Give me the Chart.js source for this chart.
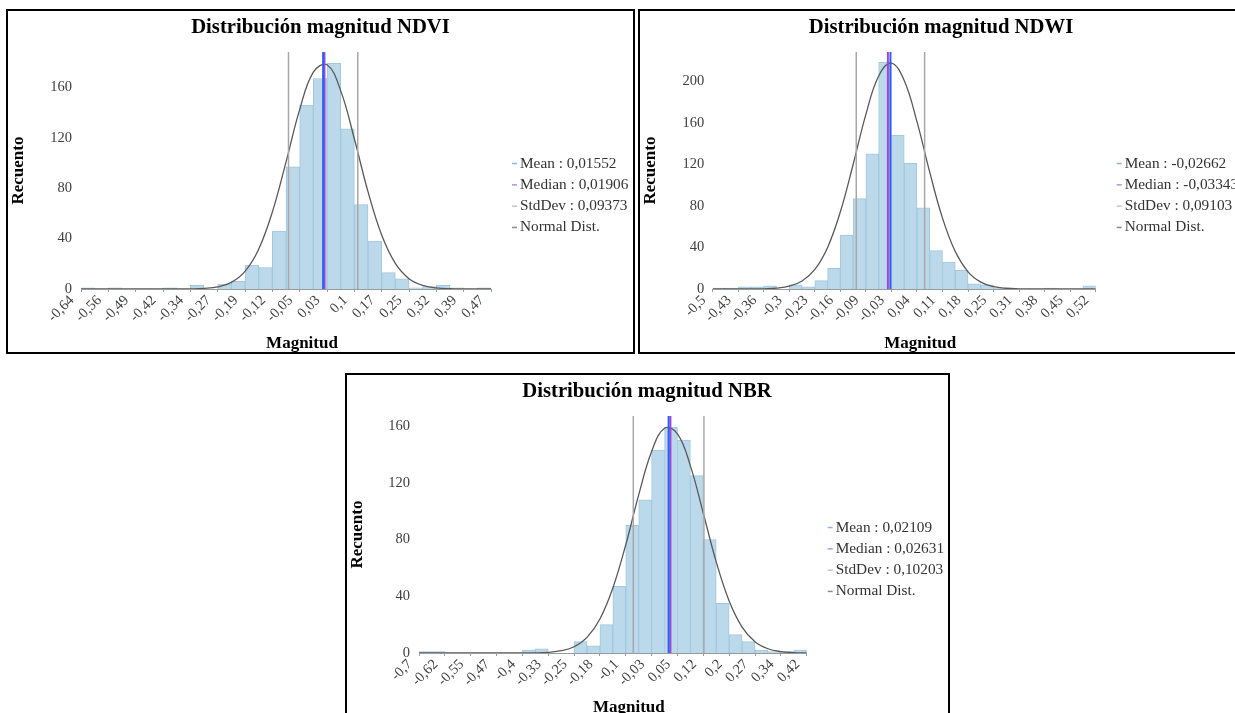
<!DOCTYPE html>
<html>
<head>
<meta charset="utf-8">
<script src="https://cdn.jsdelivr.net/npm/chart.js@4.4.1/dist/chart.umd.min.js"></script>
<style>
  body { margin: 0; width: 1235px; height: 713px; overflow: hidden; background: #fff; position: relative; }
  .panel { position: absolute; border: 2px solid #000; box-sizing: border-box; }
  canvas { position: absolute; }
</style>
</head>
<body>
<div class="panel" style="left:6px;top:9px;width:629px;height:345px"></div>
<div class="panel" style="left:638px;top:9px;width:606px;height:345px"></div>
<div class="panel" style="left:345px;top:373px;width:605px;height:360px"></div>
<canvas id="cNdvi" width="623" height="340" style="left:9px;top:12px"></canvas>
<canvas id="cNdwi" width="600" height="340" style="left:641px;top:12px"></canvas>
<canvas id="cNbr" width="598" height="340" style="left:348px;top:376px"></canvas>
<script>
/*------------------------------- DATA -------------------------------*/
// NDVI
const ndviRange = [-0.64, 0.47];
const ndviTicks = ['-0,64', '-0,56', '-0,49', '-0,42', '-0,34', '-0,27', '-0,19', '-0,12', '-0,05', '0,03', '0,1', '0,17', '0,25', '0,32', '0,39', '0,47'];
const ndviCounts = [1, 0, 1, 0, 0, 0, 1, 0, 3, 0, 4, 6, 19, 17, 46, 97, 146, 167, 179, 127, 67, 38, 13, 8, 1, 2, 3, 1, 0, 1];
const ndviNormal = [0, 0, 0, 0, 0, 0, 0, 0, 0.1, 0.5, 1.7, 5.3, 14, 31.6, 61, 100.7, 142.3, 172, 177.9, 157.4, 119.2, 77.2, 42.8, 20.3, 8.2, 2.9, 0.9, 0.2, 0, 0, 0];
const ndviStats = [0.01552, 0.01906, 0.09373]; // mean, median, stddev

// NDWI
const ndwiRange = [-0.5, 0.52];
const ndwiTicks = ['-0,5', '-0,43', '-0,36', '-0,3', '-0,23', '-0,16', '-0,09', '-0,03', '0,04', '0,11', '0,18', '0,25', '0,31', '0,38', '0,45', '0,52'];
const ndwiCounts = [1, 1, 2, 2, 3, 0, 4, 2, 8, 20, 52, 87, 130, 218, 148, 121, 78, 37, 26, 18, 5, 4, 1, 0, 0, 0, 1, 0, 0, 3];
const ndwiNormal = [0, 0, 0, 0, 0.2, 0.8, 2.7, 7.7, 18.8, 40, 74.3, 119.8, 168, 205, 217.4, 200.6, 161, 112.4, 68.2, 36, 16.5, 6.6, 2.3, 0.7, 0.2, 0, 0, 0, 0, 0, 0];
const ndwiStats = [-0.02662, -0.03343, 0.09103];

// NBR
const nbrRange = [-0.7, 0.42];
const nbrTicks = ['-0,7', '-0,62', '-0,55', '-0,47', '-0,4', '-0,33', '-0,25', '-0,18', '-0,1', '-0,03', '0,05', '0,12', '0,2', '0,27', '0,34', '0,42'];
const nbrCounts = [1, 1, 0, 0, 0, 0, 0, 0, 2, 3, 0, 0, 8, 5, 20, 47, 90, 108, 143, 159, 150, 125, 80, 35, 13, 8, 2, 1, 1, 2];
const nbrNormal = [0, 0, 0, 0, 0, 0, 0, 0, 0, 0.1, 0.5, 1.6, 4.4, 11, 24, 45.8, 76.3, 111.4, 142, 158.4, 154.5, 131.9, 98.5, 64.2, 36.7, 18.3, 8, 3, 1, 0.3, 0.1];
const nbrStats = [0.02109, 0.02631, 0.10203];

const legendNames = ['Mean', 'Median', 'StdDev', 'Normal Dist.'];

/*------------------------------- STYLE -------------------------------*/
const FONT = '"Liberation Serif", "Times New Roman", serif';
const TICK_COLOR = '#404040';

//Ritar x-titel och legend till höger om plotten
const sideBits = {
  id: 'sideBits',
  afterDraw(chart, args, opts) {
    const { ctx, chartArea: a } = chart;
    ctx.save();
    ctx.textBaseline = 'middle';
    ctx.font = 'bold 17px ' + FONT;
    ctx.fillStyle = '#000';
    ctx.textAlign = 'center';
    ctx.fillText(opts.xTitle, (a.left + a.right) / 2 + 16, a.bottom + 55);

    ctx.font = '15.3px ' + FONT;
    ctx.textAlign = 'left';
    opts.items.forEach((it, i) => {
      const y = a.top + 111.5 + i * 21.3;
      ctx.fillStyle = it.color;
      ctx.fillRect(a.right + 21, y - 0.75, 5, 1.5);
      ctx.fillStyle = '#333';
      ctx.fillText(it.text, a.right + 29, y);
    });
    ctx.restore();
  },
};

/*------------------------------- CHART -------------------------------*/
function histChart(canvasId, title, range, tickLabels, counts, normal, stats, yMax, lay) {
  const lo = range[0];
  const hi = range[1];
  const w = (hi - lo) / counts.length;
  const mean = stats[0], median = stats[1], sd = stats[2];
  const vline = (x) => [{ x: x, y: 0 }, { x: x, y: yMax }];
  const fmt = (v) => v.toFixed(5).replace('.', ',');
  const lineBase = { type: 'line', pointRadius: 0, fill: false };

  new Chart(document.getElementById(canvasId), {
    type: 'bar',
    data: {
      datasets: [
        { ...lineBase, data: vline(mean), borderColor: '#2f5ff2', borderWidth: 2, order: 1 },
        { ...lineBase, data: vline(median), borderColor: '#a245d6', borderWidth: 2, order: 2 },
        { ...lineBase, data: vline(mean - sd), borderColor: '#a8a8a8', borderWidth: 1.5, order: 3 },
        { ...lineBase, data: vline(mean + sd), borderColor: '#a8a8a8', borderWidth: 1.5, order: 3 },
        {
          ...lineBase,
          data: normal.map((v, i) => ({ x: lo + i * w, y: v })),
          borderColor: '#595959',
          borderWidth: 1.3,
          tension: 0.4,
          order: 4,
        },
        {
          type: 'bar',
          data: counts.map((v, i) => ({ x: lo + (i + 0.5) * w, y: v })),
          backgroundColor: '#bbd9ea',
          borderColor: '#a0c8de',
          borderWidth: 1,
          barPercentage: 1,
          categoryPercentage: 1,
          order: 10,
        },
      ],
    },
    options: {
      responsive: false,
      animation: false,
      events: [],
      plugins: {
        legend: { display: false },
        tooltip: { enabled: false },
        title: {
          display: true,
          text: title,
          color: '#000',
          font: { family: FONT, size: 20.7, weight: 'bold' },
          padding: { top: 3.5, bottom: 11.7 },
        },
        sideBits: {
          xTitle: 'Magnitud',
          items: [
            { text: legendNames[0] + ' : ' + fmt(mean), color: '#8db6e6' },
            { text: legendNames[1] + ' : ' + fmt(median), color: '#c58bdc' },
            { text: legendNames[2] + ' : ' + fmt(sd), color: '#c4c4c4' },
            { text: legendNames[3], color: '#8c8c8c' },
          ],
        },
      },
      scales: {
        x: {
          type: 'linear',
          min: lo,
          max: hi,
          offset: false,
          afterBuildTicks: (s) => {
            s.ticks = tickLabels.map((t, i) => ({ value: lo + 2 * i * w }));
          },
          afterFit: (s) => { s.height = 63; },
          ticks: {
            autoSkip: false,
            minRotation: 45,
            maxRotation: 45,
            labelOffset: -9,
            padding: 0,
            color: TICK_COLOR,
            font: { family: FONT, size: 14.5 },
            callback: (v, i) => tickLabels[i],
          },
          grid: { display: true, drawOnChartArea: false, drawTicks: true, tickLength: 3, color: '#9a9a9a', offset: false },
          border: { display: true, color: '#9a9a9a' },
        },
        y: {
          type: 'linear',
          position: 'left',
          min: 0,
          max: yMax,
          afterFit: (s) => { s.width = lay.yW; },
          ticks: {
            stepSize: 40,
            includeBounds: false,
            padding: lay.yPad,
            color: TICK_COLOR,
            font: { family: FONT, size: 14.5 },
          },
          grid: { display: false, drawTicks: false },
          border: { display: false },
          title: {
            display: true,
            text: 'Recuento',
            color: '#000',
            font: { family: FONT, size: 17, weight: 'bold', lineHeight: 1.1 },
            padding: 0,
          },
        },
        //Tom axel som reserverar plats för legenden
        side: {
          type: 'linear',
          axis: 'y',
          position: 'right',
          afterFit: (s) => { s.width = lay.rightW; },
          ticks: { display: false },
          grid: { display: false, drawTicks: false },
          border: { display: false },
        },
      },
    },
    plugins: [sideBits],
  });
}

histChart('cNdvi', 'Distribución magnitud NDVI', ndviRange, ndviTicks, ndviCounts, ndviNormal, ndviStats, 188,
  { yW: 72, yPad: 9, rightW: 141 });
histChart('cNdwi', 'Distribución magnitud NDWI', ndwiRange, ndwiTicks, ndwiCounts, ndwiNormal, ndwiStats, 228,
  { yW: 71.7, yPad: 8.4, rightW: 145.3 });
histChart('cNbr', 'Distribución magnitud NBR', nbrRange, nbrTicks, nbrCounts, nbrNormal, nbrStats, 167,
  { yW: 71, yPad: 9, rightW: 139.3 });
</script>
</body>
</html>
